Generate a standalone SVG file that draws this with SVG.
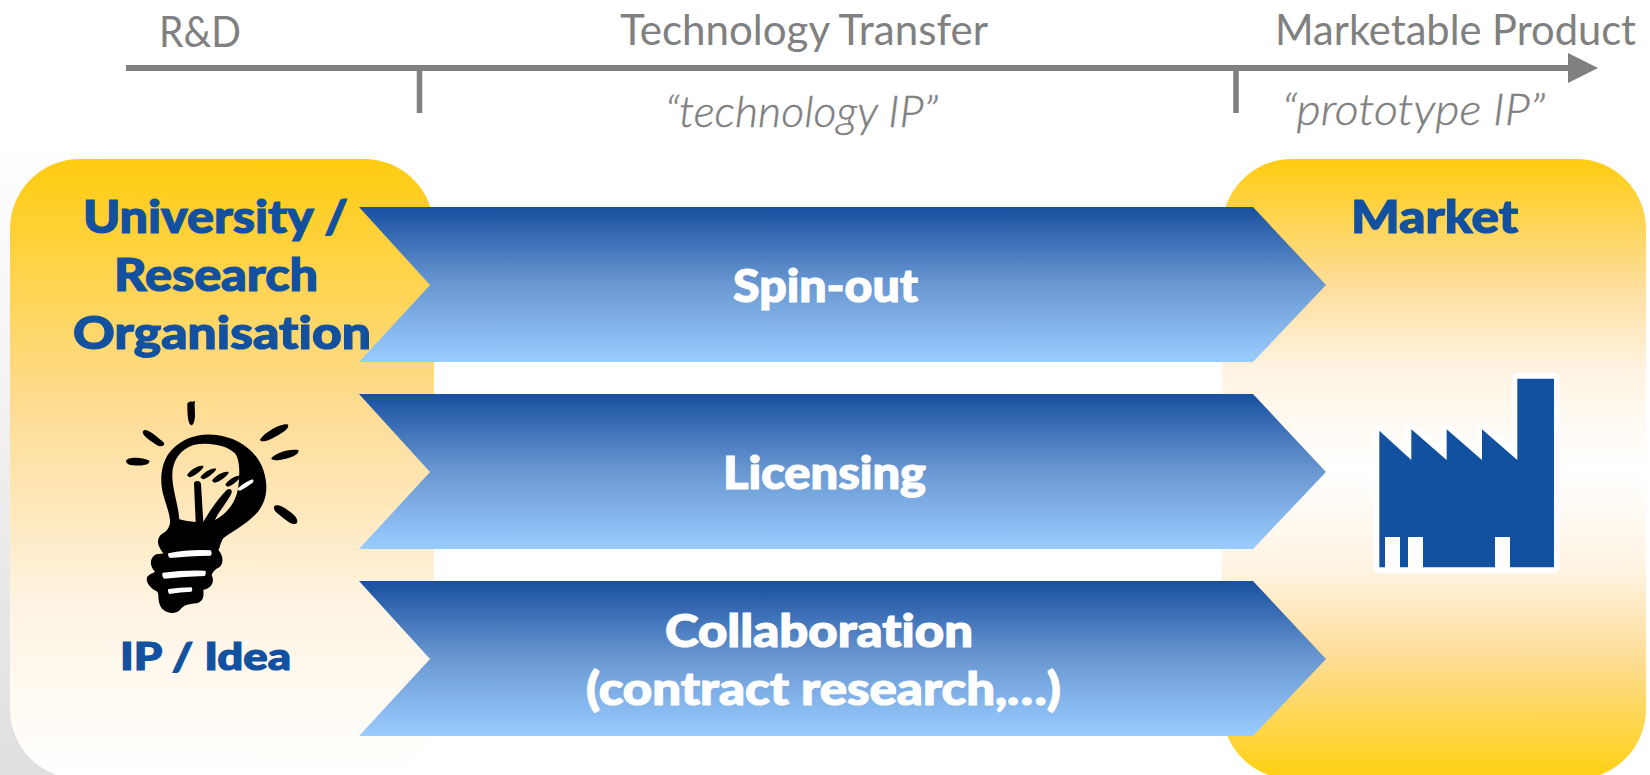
<svg xmlns="http://www.w3.org/2000/svg" width="1650" height="775" viewBox="0 0 1650 775">
<style>
text{font-variant-ligatures:none}
.h{font-family:"Lato","Liberation Sans",sans-serif;font-weight:900;font-size:45px;fill:#1251A0;stroke:#1251A0;stroke-width:1.200px}
.w{fill:#fff;stroke:#fff}
.g{font-family:"Lato","Liberation Sans",sans-serif;font-weight:400;font-size:43px;fill:#808080}
.i{font-style:italic;font-weight:300;stroke:#808080;stroke-width:.4px}
.ar{fill:url(#blue)}
</style>
<defs>
<linearGradient id="shade" x1="0" y1="140" x2="0" y2="775" gradientUnits="userSpaceOnUse"><stop offset="0" stop-color="#fff"/><stop offset="1" stop-color="#dfdfdf"/></linearGradient>
<linearGradient id="lgold" x1="0" x2="0" y1="0" y2="1"><stop offset="0" stop-color="#FFCC0F"/><stop offset=".42" stop-color="#FEDD98"/><stop offset=".72" stop-color="#FFF4E3"/><stop offset="1" stop-color="#fff"/></linearGradient>
<linearGradient id="rgold" x1="0" x2="0" y1="159" y2="780" gradientUnits="userSpaceOnUse"><stop offset="0" stop-color="#FFCC0F"/><stop offset=".2" stop-color="#FEDD98"/><stop offset=".34" stop-color="#FFF4E3"/><stop offset=".5" stop-color="#fff"/><stop offset=".66" stop-color="#FFF4E3"/><stop offset=".8" stop-color="#FEDD98"/><stop offset="1" stop-color="#FFD00F"/></linearGradient>
<linearGradient id="blue" x1="0" x2="0" y1="0" y2="1"><stop offset="0" stop-color="#1850A0"/><stop offset=".5" stop-color="#6A98D2"/><stop offset="1" stop-color="#99CCFF"/></linearGradient>
<marker id="head" markerUnits="userSpaceOnUse" markerWidth="30" markerHeight="30" refX="0" refY="15" orient="auto"><path d="M0 0L30 15L0 30Z" fill="#808080"/></marker>
</defs>
<rect width="1650" height="775" fill="#fff"/>
<rect x="0" y="140" width="100" height="635" fill="url(#shade)"/>
<g id="university"><rect x="10" y="159" width="424" height="620" rx="70" fill="url(#lgold)"/></g>
<g id="market"><rect x="1222" y="159" width="424" height="620" rx="70" fill="url(#rgold)"/></g>
<g id="connectors">
<path d="M126 68H1568" stroke="#808080" stroke-width="6" fill="none" marker-end="url(#head)"/>
<path d="M419.500 68V113M1236 68V113" stroke="#808080" stroke-width="5.500" fill="none"/>
</g>
<g id="axis-labels">
<text class="g" x="159" y="47" textLength="82" lengthAdjust="spacingAndGlyphs">R&amp;D</text>
<text class="g" x="620" y="45" textLength="368" lengthAdjust="spacingAndGlyphs">Technology Transfer</text>
<text class="g" x="1275" y="45" textLength="361" lengthAdjust="spacingAndGlyphs">Marketable Product</text>
<text class="g i" x="665" y="127" textLength="273" lengthAdjust="spacingAndGlyphs">“technology IP”</text>
<text class="g i" x="1282" y="125" textLength="263" lengthAdjust="spacingAndGlyphs">“prototype IP”</text>
</g>
<g id="spin-out"><path class="ar" d="M359 207H1253L1326 285L1253 362H359L430 285Z"/><text class="h w" x="733" y="302" textLength="185" lengthAdjust="spacingAndGlyphs">Spin-out</text></g>
<g id="licensing"><path class="ar" d="M359 394H1253L1326 472L1253 549H359L430 472Z"/><text class="h w" x="723" y="489" textLength="203" lengthAdjust="spacingAndGlyphs">Licensing</text></g>
<g id="collaboration"><path class="ar" d="M359 581H1253L1326 659L1253 736H359L430 659Z"/><text class="h w" x="665" y="647" textLength="308" lengthAdjust="spacingAndGlyphs">Collaboration</text><text class="h w" x="586" y="705" textLength="475" lengthAdjust="spacingAndGlyphs">(contract research,…)</text></g>
<g id="university-label">
<text class="h" x="83" y="233" textLength="265" lengthAdjust="spacingAndGlyphs">University /</text>
<text class="h" x="114" y="291" textLength="204" lengthAdjust="spacingAndGlyphs">Research</text>
<text class="h" x="73" y="349" textLength="298" lengthAdjust="spacingAndGlyphs">Organisation</text>
</g>
<g id="market-label"><text class="h" x="1351" y="233" textLength="167" lengthAdjust="spacingAndGlyphs">Market</text></g>
<g id="idea-label"><text class="h" style="font-size:38px" x="120" y="670" textLength="171" lengthAdjust="spacingAndGlyphs">IP / Idea</text></g>
<g id="bulb" transform="translate(100 390) scale(.3333)">
<path fill-rule="evenodd" d="M210 400C212 380 200 350 190 315C178 270 182 215 215 180C250 142 300 128 350 135C410 142 470 180 490 240C510 300 495 345 465 375C435 405 395 425 370 445C360 460 360 475 355 480C370 495 372 520 358 532C345 538 340 545 335 555C345 575 335 595 310 600C312 620 310 635 290 640C265 643 250 645 240 660C225 675 195 670 182 650C172 630 178 615 172 605C150 595 135 575 142 560C150 550 160 550 165 545C150 530 148 510 162 497C172 490 185 493 190 490C175 470 168 455 180 437C190 428 205 425 210 400ZM238 388C255 393 270 395 287 396L282 280C283 270 302 270 303 282L310 396C325 370 350 330 380 300C392 292 400 302 392 315C375 345 350 375 345 390C385 370 410 330 415 290C420 250 420 210 405 190C380 165 325 155 280 165C240 178 215 215 217 260C218 300 235 345 238 388Z"/>
<path d="M261 256C270 240 295 225 310 228C314 235 280 262 268 262ZM301 262C310 248 335 232 348 236C352 242 320 268 308 268ZM336 272C345 258 370 243 386 246C388 254 358 278 343 278ZM376 284C385 270 408 254 422 258C424 264 395 290 382 290ZM279 35C290 30 283 32 284 50C286 75 286 100 275 106C262 105 262 60 262 42C263 35 270 33 279 35ZM130 122C140 113 170 140 192 158C196 170 180 172 170 165C155 155 120 135 130 122ZM78 212C85 198 130 202 148 212C152 225 120 228 100 226C90 225 78 222 78 212ZM480 150C490 130 540 100 562 103C572 110 555 125 530 138C510 150 485 160 480 150ZM514 205C525 190 565 175 595 180C600 195 570 205 540 210C528 211 515 212 514 205ZM522 350C530 340 550 350 570 365C585 375 597 390 590 400C580 408 560 392 545 380C532 370 520 362 522 350Z"/>
<path fill="#fff" d="M205 490Q265 478 332 481Q338 490 332 497Q265 498 210 504Q202 498 205 490ZM188 548Q250 540 316 542Q320 552 314 558Q250 560 192 566Q184 558 188 548ZM205 597Q240 592 275 592Q279 600 274 605Q240 606 208 612Q202 605 205 597ZM414 295Q435 275 458 268Q463 272 458 278Q440 292 420 302Q412 302 414 295Z"/>
</g>
<g id="factory" transform="translate(1340 360) scale(.3333)">
<path fill="#1251A0" stroke="#fff" stroke-width="34" stroke-linejoin="round" paint-order="stroke" d="M118 212L214 300V208L320 300V208L426 300V208L532 300V56H642V622H118Z"/>
<path fill="#fff" d="M135 531H180V624H135ZM204 531H249V624H204ZM465 531H510V624H465Z"/>
</g>
</svg>
